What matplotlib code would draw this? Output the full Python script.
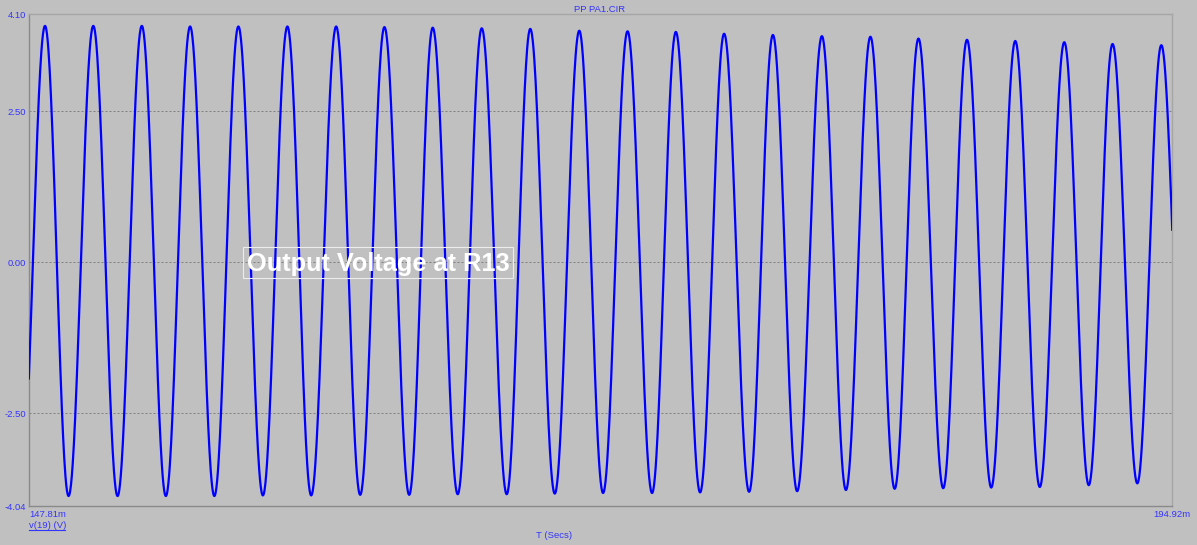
import numpy as np
import matplotlib

matplotlib.use("Agg")
import matplotlib.pyplot as plt
from matplotlib.lines import Line2D
from matplotlib.patches import Rectangle

W, H = 1197, 545
BG = "#c0c0c0"
TXT = "#3434ff"
FONT = "Liberation Sans"

# time window in ms, voltage range in V
T_START, T_END = 147.81, 194.92
Y_MIN, Y_MAX = -4.04, 4.10
Y_TICKS = [-4.04, -2.50, 0.00, 2.50, 4.10]
GRID_Y = [-2.50, 0.00, 2.50]

# extrema of v(19)
peak_t = [148.47, 150.46, 152.46, 154.45, 156.44, 158.46, 160.47, 162.46,
          164.45, 166.47, 168.47, 170.49, 172.48, 174.47, 176.46, 178.47,
          180.49, 182.49, 184.47, 186.47, 188.46, 190.48, 192.47, 194.48]
peak_v = [3.91, 3.91, 3.91, 3.90, 3.90, 3.90, 3.90, 3.89,
          3.88, 3.87, 3.86, 3.83, 3.82, 3.81, 3.78, 3.76,
          3.74, 3.73, 3.70, 3.68, 3.66, 3.64, 3.61, 3.59]
trough_t = [147.47, 149.44, 151.46, 153.45, 155.45, 157.45, 159.44, 161.46,
            163.48, 165.48, 167.50, 169.48, 171.47, 173.49, 175.47, 177.49,
            179.47, 181.48, 183.49, 185.49, 187.47, 189.47, 191.49, 193.49,
            195.48]
trough_v = [-3.87, -3.87, -3.87, -3.87, -3.87, -3.86, -3.86, -3.85,
            -3.85, -3.84, -3.84, -3.83, -3.82, -3.82, -3.81, -3.80,
            -3.79, -3.77, -3.75, -3.74, -3.73, -3.72, -3.69, -3.66,
            -3.65]


def fx(x):
    return x / W


def fy(y):
    return 1 - y / H


def build_trace():
    ext_t = np.array(peak_t + trough_t)
    ext_v = np.array(peak_v + trough_v)
    order = np.argsort(ext_t)
    ext_t, ext_v = ext_t[order], ext_v[order]
    ts, vs = [], []
    for i in range(len(ext_t) - 1):
        t0, t1 = ext_t[i], ext_t[i + 1]
        v0, v1 = ext_v[i], ext_v[i + 1]
        t = np.linspace(t0, t1, 60, endpoint=False)
        ts.append(t)
        vs.append((v0 + v1) / 2 + (v0 - v1) / 2 * np.cos(np.pi * (t - t0) / (t1 - t0)))
    return np.concatenate(ts), np.concatenate(vs)


fig = plt.figure(figsize=(W / 100, H / 100), dpi=100, facecolor=BG)
ax = fig.add_axes([fx(29), fy(506.3), fx(1172 - 29), (506.3 - 14.4) / H], facecolor=BG)

t, v = build_trace()
ax.plot(t, v, color="#0000ff", linewidth=1.6, zorder=3)

for gy in GRID_Y:
    ax.axhline(gy, color="#808080", linewidth=0.72, linestyle=(0, (2, 2)), zorder=1)

ax.set_xlim(T_START, T_END)
ax.set_ylim(Y_MIN, Y_MAX)

ax.set_yticks(Y_TICKS)
ax.set_yticklabels([f"{y:.2f}" for y in Y_TICKS])
ax.set_xticks([T_START, T_END])
ax.set_xticklabels([f"{T_START:.2f}m", f"{T_END:.2f}m"])
ax.tick_params(axis="both", length=0, labelsize=6.8, labelcolor=TXT)
ax.tick_params(axis="y", pad=2.2)
ax.tick_params(axis="x", pad=2.6)
ax.get_xticklabels()[0].set_horizontalalignment("left")
for lab in ax.get_xticklabels() + ax.get_yticklabels():
    lab.set_fontfamily(FONT)

for side in ("left", "bottom"):
    ax.spines[side].set_color("#8a8a8a")
for side in ("top", "right"):
    ax.spines[side].set_color("#a6a6a6")
for sp in ax.spines.values():
    sp.set_linewidth(1.0)

fig.text(fx(599.3), fy(9.3), "PP PA1.CIR", ha="center", va="center",
         fontsize=6.8, color=TXT, family=FONT)
fig.text(fx(554), fy(535.5), "T (Secs)", ha="center", va="center",
         fontsize=6.8, color=TXT, family=FONT)
fig.text(fx(29), fy(528), "v(19) (V)", ha="left", va="baseline",
         fontsize=6.8, color=TXT, family=FONT)
fig.add_artist(Line2D([fx(29), fx(65)], [fy(529.5), fy(529.5)],
                      transform=fig.transFigure, color=TXT, linewidth=0.8))

# label box
fig.add_artist(Rectangle((fx(242.7), fy(277.7)), (513.3 - 242.7) / W, (277.7 - 247.3) / H,
                         transform=fig.transFigure, fill=False,
                         edgecolor="#ececec", linewidth=0.8, zorder=5))
fig.text(fx(378.3), fy(270.7), "Output Voltage at R13", ha="center", va="baseline",
         fontsize=18.3, fontweight="bold", color="white", family=FONT, zorder=6)

fig.savefig("out.png", dpi=100, facecolor=BG)
